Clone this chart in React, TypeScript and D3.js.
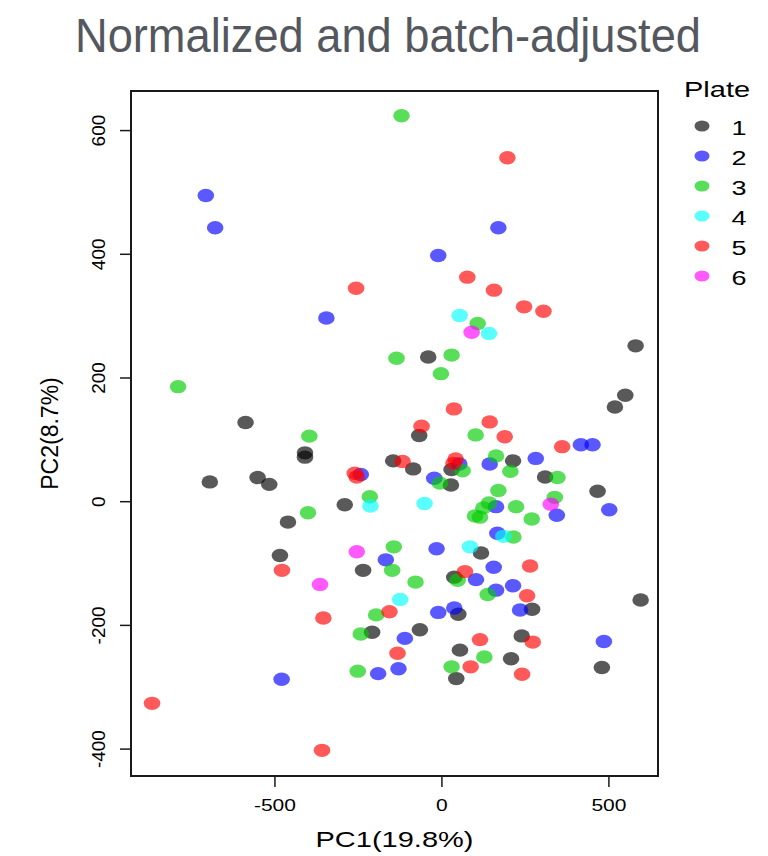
import * as d3 from 'd3';

// PCA scores per plate, [PC1, PC2]
const PLATE_1: [number, number][] = [
  [580, 252], [-41, 234], [549, 172], [518, 153], [-68, 107], [-146, 66], [-86, 53], [29, 52],
  [213, 66], [309, 40], [466, 17], [27, 27], [-588, 128], [-410, 79], [-410, 72], [-695, 32],
  [-552, 39], [-517, 28], [-291, -5], [-461, -33], [-485, -87], [-236, -111], [-209, -211],
  [117, -83], [37, -122], [49, -182], [270, -174], [595, -159], [-66, -207], [239, -217],
  [54, -240], [207, -254], [43, -286], [479, -268],
];
const PLATE_2: [number, number][] = [
  [-707, 495], [-679, 443], [-346, 297], [169, 443], [-11, 398], [416, 92], [451, 92], [52, 61],
  [143, 61], [281, 70], [-23, 38], [162, -8], [344, -22], [501, -13], [166, -51], [-243, 44],
  [-168, -94], [-111, -221], [-130, -270], [-191, -278], [-480, -287], [-16, -76], [102, -126],
  [155, -106], [213, -136], [162, -143], [-11, -179], [37, -172], [234, -175], [485, -226],
];
const PLATE_3: [number, number][] = [
  [-121, 624], [107, 288], [-136, 232], [29, 237], [-3, 207], [101, 108], [62, 50], [162, 74],
  [205, 49], [346, 39], [-6, 30], [169, 18], [141, -2], [124, -10], [222, -8], [99, -23],
  [114, -25], [269, -28], [338, 7], [214, -57], [-790, 186], [-397, 106], [-216, 8], [-401, -18],
  [-144, -73], [-149, -111], [-197, -183], [-243, -214], [-252, -274], [-79, -130], [47, -127],
  [137, -150], [127, -251], [29, -267],
];
const PLATE_4: [number, number][] = [
  [53, 301], [141, 272], [-52, -3], [184, -56], [-214, -7], [-125, -158], [84, -73],
];
const PLATE_5: [number, number][] = [
  [196, 556], [76, 363], [156, 342], [246, 315], [304, 308], [-257, 345], [36, 150], [-61, 122],
  [143, 129], [188, 105], [360, 89], [-118, 65], [41, 69], [35, 62], [-261, 46], [-255, 40],
  [-479, -111], [-355, -188], [-157, -178], [-133, -245], [-868, -326], [-359, -402], [69, -113],
  [264, -104], [255, -152], [114, -223], [272, -227], [86, -267], [240, -279],
];
const PLATE_6: [number, number][] = [
  [89, 274], [326, -4], [-255, -81], [-365, -134],
];

const PLATES = ['1', '2', '3', '4', '5', '6'];
const COLORS = ['#000000', '#0000FF', '#00CD00', '#00FFFF', '#FF0000', '#FF00FF'];
const X_TICKS = [-500, 0, 500];
const Y_TICKS = [-400, -200, 0, 200, 400, 600];

const W = 768, H = 856;
const P = { left: 131, right: 658, top: 91, bottom: 776 };
const FONT = '"Liberation Sans", Arial, Helvetica, sans-serif';
const SQ = 0.78; // glyphs in the source are squashed vertically

export default function App() {
  const x = d3.scaleLinear().domain([-931, 647]).range([P.left, P.right]);
  const y = d3.scaleLinear().domain([-443.5, 664]).range([P.bottom, P.top]);
  const groups = [PLATE_1, PLATE_2, PLATE_3, PLATE_4, PLATE_5, PLATE_6];

  return (
    <div style={{ position: 'absolute', left: 0, top: 0 }}>
      <svg width={W} height={H} style={{ display: 'block', background: '#fff' }} fontFamily={FONT}>
        <text x={388} y={52} textAnchor="middle" fontSize={48} fill="#54585e"
          textLength={626} lengthAdjust="spacingAndGlyphs">Normalized and batch-adjusted</text>

        {groups.map((pts, gi) => (
          <g key={gi} fill={COLORS[gi]} fillOpacity={0.65}>
            {pts.map((d, i) => <ellipse key={i} cx={x(d[0])} cy={y(d[1])} rx={8.3} ry={6.7} />)}
          </g>
        ))}

        <rect x={P.left} y={P.top} width={P.right - P.left} height={P.bottom - P.top}
          fill="none" stroke="#1a1a1a" strokeWidth={2} />

        {X_TICKS.map(t => (
          <g key={t}>
            <line x1={x(t)} x2={x(t)} y1={P.bottom} y2={P.bottom + 11} stroke="#1a1a1a" strokeWidth={1.5} />
            <text transform={`translate(${x(t)},811) scale(1,${SQ})`} textAnchor="middle" fontSize={21}>{t}</text>
          </g>
        ))}
        {Y_TICKS.map(t => (
          <g key={t}>
            <line x1={P.left} x2={P.left - 11} y1={y(t)} y2={y(t)} stroke="#1a1a1a" strokeWidth={1.5} />
            <text transform={`translate(105,${y(t)}) rotate(-90)`} textAnchor="middle" fontSize={19}>{t}</text>
          </g>
        ))}

        <text transform={`translate(${(P.left + P.right) / 2},847) scale(1,${SQ})`} textAnchor="middle" fontSize={29}>PC1(19.8%)</text>
        <text transform={`translate(58,${(P.top + P.bottom) / 2}) rotate(-90)`} textAnchor="middle" fontSize={23}>PC2(8.7%)</text>

        <text transform={`translate(684,97) scale(1,${SQ})`} fontSize={29}>Plate</text>
        {PLATES.map((p, i) => (
          <g key={p}>
            <ellipse cx={702} cy={126 + i * 30} rx={7.5} ry={5.5} fill={COLORS[i]} fillOpacity={0.65} />
            <text transform={`translate(739,${135 + i * 30}) scale(1,${SQ})`} textAnchor="middle" fontSize={27}>{p}</text>
          </g>
        ))}
      </svg>
    </div>
  );
}
